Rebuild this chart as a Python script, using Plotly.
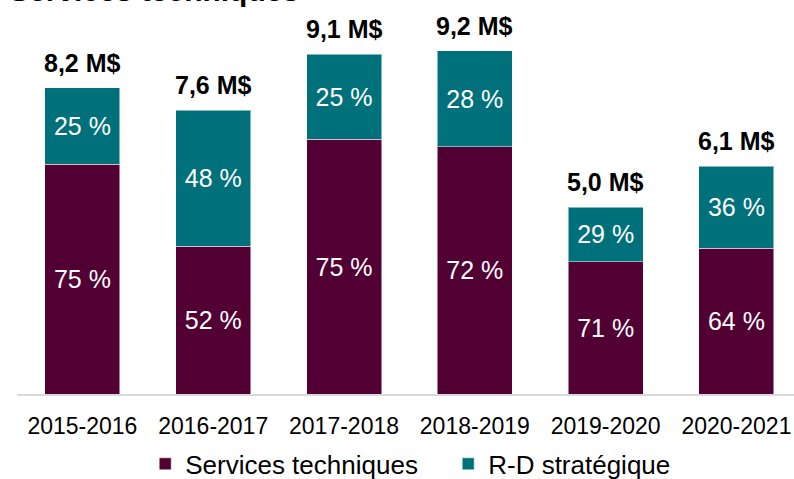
import plotly.graph_objects as go

years = ["2015-2016", "2016-2017", "2017-2018", "2018-2019", "2019-2020", "2020-2021"]
totals = [8.2, 7.6, 9.1, 9.2, 5.0, 6.1]
total_labels = ["8,2 M$", "7,6 M$", "9,1 M$", "9,2 M$", "5,0 M$", "6,1 M$"]
services_pct = [75, 52, 75, 72, 71, 64]
rd_pct = [25, 48, 25, 28, 29, 36]

FONT = "Arial, Liberation Sans, sans-serif"
MAROON = "#520034"
TEAL = "#00717A"

services_vals = [t * p / 100 for t, p in zip(totals, services_pct)]
rd_vals = [t * p / 100 for t, p in zip(totals, rd_pct)]

fig = go.Figure()
fig.add_trace(go.Bar(
    x=years, y=services_vals, name="Services techniques",
    marker=dict(color=MAROON, line=dict(color="rgba(255,255,255,0.5)", width=1)),
    text=[f"{p} %" for p in services_pct], textposition="inside",
    insidetextanchor="middle", textangle=0,
    textfont=dict(family=FONT, size=25, color="white"),
    hoverinfo="skip",
))
fig.add_trace(go.Bar(
    x=years, y=rd_vals, name="R-D stratégique",
    marker=dict(color=TEAL, line=dict(color="rgba(255,255,255,0.5)", width=1)),
    text=[f"{p} %" for p in rd_pct], textposition="inside",
    insidetextanchor="middle", textangle=0,
    textfont=dict(family=FONT, size=25, color="white"),
    hoverinfo="skip",
))

for yr, tot, lab in zip(years, totals, total_labels):
    fig.add_annotation(x=yr, y=tot, text=f"<b>{lab}</b>", showarrow=False,
                       yanchor="bottom", yshift=9,
                       font=dict(family=FONT, size=25, color="black"))

fig.add_annotation(xref="paper", yref="paper", x=-0.013, y=1.078, xanchor="left",
                   yanchor="middle", text="<b>Services techniques</b>", showarrow=False,
                   font=dict(family=FONT, size=30, color="black"))

fig.update_layout(
    width=794, height=479,
    margin=dict(l=17, r=0, t=20, b=85, autoexpand=False),
    barmode="stack", bargap=0.427,
    plot_bgcolor="white", paper_bgcolor="white",
    uniformtext=dict(minsize=10, mode="show"),
    showlegend=True,
    hovermode=False,
    legend=dict(orientation="h", x=0.165, xanchor="left", y=-0.187, yanchor="middle",
                font=dict(family=FONT, size=26, color="black"), entrywidth=258,
                traceorder="normal", itemwidth=30),
    font=dict(family=FONT),
)
fig.update_xaxes(range=[-0.5, 5.44], showline=True, linecolor="#D9D9D9", linewidth=2,
                 ticks="", tickfont=dict(family=FONT, size=23, color="black"),
                 ticklabelstandoff=10, fixedrange=True, automargin=False)
fig.update_yaxes(range=[0, 10.02], visible=False, showgrid=False, fixedrange=True,
                 automargin=False)

fig.write_html("out.html", config={"displayModeBar": False},
               post_script="document.body.style.margin='0px';document.body.style.overflow='hidden';")
